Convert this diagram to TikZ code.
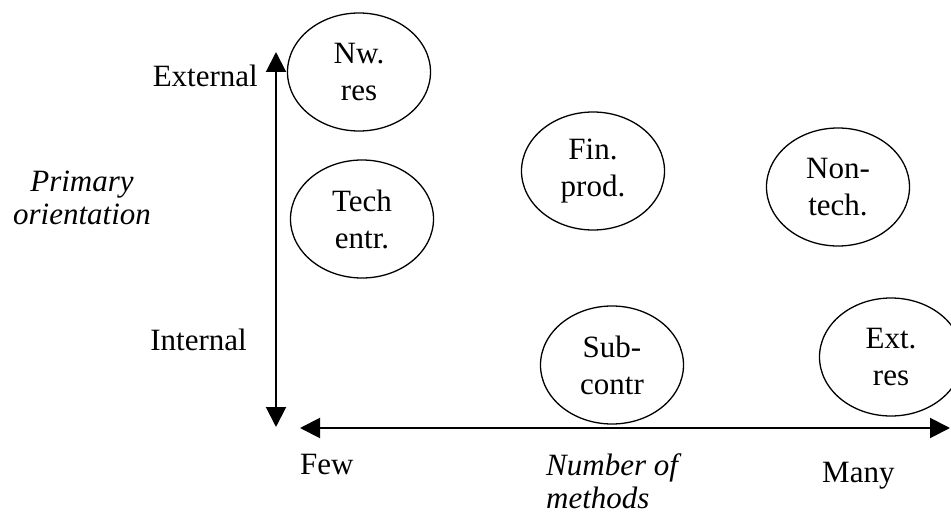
\documentclass[tikz,border=0pt]{standalone}
\usepackage{fontspec}
\setmainfont{Liberation Serif}
\usetikzlibrary{shapes.geometric,arrows.meta}
\begin{document}
\begin{tikzpicture}[x=1pt,y=-1pt,
  lbl/.style={font=\fontsize{31}{35}\selectfont, inner sep=0pt, align=center},
  blob/.style={ellipse, draw, line width=1.3pt, minimum width=143pt, minimum height=118pt, inner sep=0pt, align=center, font=\fontsize{31}{37}\selectfont},
  axis/.style={line width=2pt, {Triangle[length=20pt,width=20pt]}-{Triangle[length=20pt,width=20pt]}}]
\clip (0,0) rectangle (951,516);
\fill[white] (0,0) rectangle (951,516);
% axes
\coordinate (vtop) at (276,52);
\coordinate (vbot) at (276,427);
\coordinate (hleft) at (300,428);
\coordinate (hright) at (950,428);
\draw[axis] (vbot) -- (vtop);
\draw[axis] (hleft) -- (hright);
% ellipses
\node[blob] (nw) at (359,72) {Nw.\\res};
\node[blob] (tech) at (362,219) {Tech\\entr.};
\node[blob] (fin) at (593,171) {Fin.\\prod.};
\node[blob] (non) at (838,187) {Non-\\tech.};
\node[blob] (sub) at (612,365) {Sub-\\contr};
\node[blob] (ext) at (891,357) {Ext.\\res};
% axis labels
\node[lbl, anchor=base east] (external) at (258,87) {External};
\node[lbl, anchor=base east] (internal) at (247,350) {Internal};
\node[lbl, font=\fontsize{31}{33}\selectfont\itshape] (primary) at (82,198) {Primary\\orientation};
\node[lbl, anchor=base west] (few) at (300,474) {Few};
\node[lbl, anchor=base west] (many) at (822,482) {Many};
\node[lbl, align=left, anchor=north west, font=\fontsize{31}{33}\selectfont\itshape] (num) at (546,453) {Number of\\methods};
\end{tikzpicture}
\end{document}
